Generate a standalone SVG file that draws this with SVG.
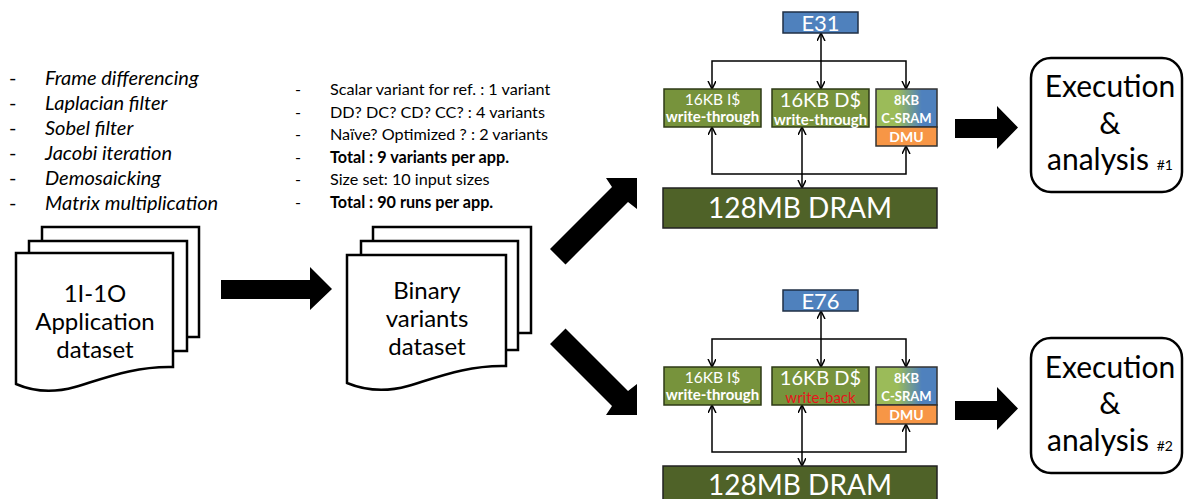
<svg xmlns="http://www.w3.org/2000/svg" width="1184" height="499" viewBox="0 0 1184 499">
<defs>
<style>
.it{font-family:Lato,"Open Sans","Liberation Sans",sans-serif;font-style:italic;font-size:20px;fill:#000}
.ml{font-family:Lato,"Open Sans","Liberation Sans",sans-serif;font-size:16.2px;fill:#000}
.doc{fill:#fff;stroke:#000;stroke-width:2.5}
.docT{font-family:Lato,"Open Sans","Liberation Sans",sans-serif;font-size:24px;fill:#000;text-anchor:middle}
.cache{fill:#77933c;stroke:#2e3a16;stroke-width:1.5}
.cpu{fill:#4f81bd;stroke:#1f2f45;stroke-width:1.5}
.dram{fill:#4f6228;stroke:#222;stroke-width:1.5}
.dmu{fill:#f79646;stroke:#333;stroke-width:1.5}
.wl{font-family:Lato,"Open Sans","Liberation Sans",sans-serif;fill:#fff;text-anchor:middle}
.red{fill:#e8141c}
.conn{fill:none;stroke:#000;stroke-width:1.5}
.blk{fill:#000}
.exe{fill:#fff;stroke:#000;stroke-width:2.5}
.exT{font-family:Lato,"Open Sans","Liberation Sans",sans-serif;font-size:30px;fill:#000;text-anchor:middle}
</style>
<marker id="ah" markerWidth="10" markerHeight="10" refX="8" refY="4" orient="auto-start-reverse" markerUnits="userSpaceOnUse">
<path d="M0,0 L8,4 L0,8" fill="none" stroke="#000" stroke-width="1.5"/>
</marker>
<linearGradient id="gs" x1="0" y1="0" x2="1" y2="0">
<stop offset="0.35" stop-color="#9bbb59"/>
<stop offset="0.75" stop-color="#4f81bd"/>
</linearGradient>
</defs>
<rect width="1184" height="499" fill="#fff"/>

<g id="app-list">
<g class="it">
<text x="9" y="85" font-style="normal">-</text><text x="45" y="85">Frame differencing</text>
<text x="9" y="110" font-style="normal">-</text><text x="45" y="110">Laplacian filter</text>
<text x="9" y="135" font-style="normal">-</text><text x="45" y="135">Sobel filter</text>
<text x="9" y="160" font-style="normal">-</text><text x="45" y="160">Jacobi iteration</text>
<text x="9" y="185" font-style="normal">-</text><text x="45" y="185">Demosaicking</text>
<text x="9" y="210" font-style="normal">-</text><text x="45" y="210">Matrix multiplication</text>
</g>
</g>

<g id="variant-list">
<g class="ml">
<text x="295" y="95">-</text><text x="330" y="95">Scalar variant for ref. : 1 variant</text>
<text x="295" y="117.5">-</text><text x="330" y="117.5">DD? DC? CD? CC? : 4 variants</text>
<text x="295" y="140">-</text><text x="330" y="140">Naïve? Optimized ? : 2 variants</text>
<text x="295" y="162.5">-</text><text x="330" y="162.5" font-weight="bold">Total : 9 variants per app.</text>
<text x="295" y="185">-</text><text x="330" y="185">Size set: 10 input sizes</text>
<text x="295" y="207.5">-</text><text x="330" y="207.5" font-weight="bold">Total : 90 runs per app.</text>
</g>
</g>

<g id="app-dataset">
<rect class="doc" x="42" y="227" width="157" height="110"/>
<rect class="doc" x="29" y="241" width="158" height="110"/>
<path class="doc" d="M16,253 H173 V367 C135,366 105,378 75,387 C50,394 32,391 16,384 Z"/>
<text class="docT" x="95" y="302">1I-1O</text>
<text class="docT" x="95" y="330">Application</text>
<text class="docT" x="95" y="358">dataset</text>
</g>

<g id="binary-dataset">
<rect class="doc" x="373" y="227" width="158" height="106"/>
<rect class="doc" x="361" y="241" width="157" height="109"/>
<path class="doc" d="M347,255 H506 V366 C468,365 438,377 408,386 C383,393 364,390 347,383 Z"/>
<text class="docT" x="427" y="299">Binary</text>
<text class="docT" x="427" y="327">variants</text>
<text class="docT" x="427" y="355">dataset</text>
</g>

<g id="big-arrows">
<polygon class="blk" points="221,280 310,280 310,267 332,289 310,310 310,299 221,299"/>
<polygon class="blk" points="550,249 612,187 606,178 637,178 637,209 628,202 565.5,264.5"/>
<polygon class="blk" points="550,344 612,406 606,415 637,415 637,384 628,391 565.5,328.5"/>
<polygon class="blk" points="955,119 997,119 997,106 1018,127.5 997,149 997,138 955,138"/>
<polygon class="blk" points="955,401 997,401 997,387 1018,408.5 997,430 997,420 955,420"/>
</g>

<g id="connectors">
<path class="conn" d="M712,89 V61 H906 V89" marker-start="url(#ah)" marker-end="url(#ah)"/>
<line class="conn" x1="821" y1="33" x2="821" y2="89" marker-start="url(#ah)" marker-end="url(#ah)"/>
<path class="conn" d="M712,127 V174 H906 V146" marker-start="url(#ah)" marker-end="url(#ah)"/>
<line class="conn" x1="802" y1="127" x2="802" y2="188" marker-start="url(#ah)" marker-end="url(#ah)"/>

<path class="conn" d="M712,367 V339 H906 V367" marker-start="url(#ah)" marker-end="url(#ah)"/>
<line class="conn" x1="821" y1="311" x2="821" y2="367" marker-start="url(#ah)" marker-end="url(#ah)"/>
<path class="conn" d="M712,405 V452 H906 V424" marker-start="url(#ah)" marker-end="url(#ah)"/>
<line class="conn" x1="802" y1="405" x2="802" y2="466" marker-start="url(#ah)" marker-end="url(#ah)"/>
</g>

<g id="e31">
<rect class="cpu" x="783" y="12" width="75" height="21"/>
<text class="wl" x="820.5" y="31" font-size="22">E31</text>
</g>
<g id="icache1">
<rect class="cache" x="664" y="89" width="97" height="38"/>
<text class="wl" x="712.5" y="105" font-size="15.5">16KB I$</text>
<text class="wl" x="712.5" y="122" font-size="15" font-weight="bold">write-through</text>
</g>
<g id="dcache1">
<rect class="cache" x="772" y="89" width="97" height="38"/>
<text class="wl" x="820.5" y="107" font-size="20">16KB D$</text>
<text class="wl" x="820.5" y="125" font-size="15" font-weight="bold">write-through</text>
</g>
<g id="csram1">
<rect x="876" y="89" width="61" height="38" fill="url(#gs)" stroke="#333" stroke-width="1.5"/>
<rect class="dmu" x="876" y="127" width="61" height="19"/>
<text class="wl" x="906.5" y="105" font-size="13" font-weight="bold">8KB</text>
<text class="wl" x="906.5" y="123" font-size="13" font-weight="bold">C-SRAM</text>
<text class="wl" x="906.5" y="142" font-size="14" font-weight="bold">DMU</text>
</g>
<g id="dram1">
<rect class="dram" x="663" y="188" width="274" height="40"/>
<text class="wl" x="800" y="218" font-size="28">128MB DRAM</text>
</g>

<g id="e76">
<rect class="cpu" x="783" y="290" width="75" height="21"/>
<text class="wl" x="820.5" y="309" font-size="22">E76</text>
</g>
<g id="icache2">
<rect class="cache" x="664" y="367" width="97" height="38"/>
<text class="wl" x="712.5" y="383" font-size="15.5">16KB I$</text>
<text class="wl" x="712.5" y="400" font-size="15" font-weight="bold">write-through</text>
</g>
<g id="dcache2">
<rect class="cache" x="772" y="367" width="97" height="38"/>
<text class="wl" x="820.5" y="385" font-size="20">16KB D$</text>
<text class="wl red" x="820.5" y="403" font-size="15">write-back</text>
</g>
<g id="csram2">
<rect x="876" y="367" width="61" height="38" fill="url(#gs)" stroke="#333" stroke-width="1.5"/>
<rect class="dmu" x="876" y="405" width="61" height="19"/>
<text class="wl" x="906.5" y="383" font-size="13" font-weight="bold">8KB</text>
<text class="wl" x="906.5" y="401" font-size="13" font-weight="bold">C-SRAM</text>
<text class="wl" x="906.5" y="420" font-size="14" font-weight="bold">DMU</text>
</g>
<g id="dram2">
<rect class="dram" x="663" y="466" width="274" height="40"/>
<text class="wl" x="800" y="495" font-size="28">128MB DRAM</text>
</g>

<g id="exec1">
<rect class="exe" x="1031" y="58" width="151" height="134" rx="20"/>
<text class="exT" x="1110" y="97">Execution</text>
<text class="exT" x="1110" y="134">&amp;</text>
<text class="exT" x="1110" y="170">analysis <tspan font-size="14">#1</tspan></text>
</g>
<g id="exec2">
<rect class="exe" x="1031" y="338" width="151" height="135" rx="20"/>
<text class="exT" x="1110" y="378">Execution</text>
<text class="exT" x="1110" y="414">&amp;</text>
<text class="exT" x="1110" y="451">analysis <tspan font-size="14">#2</tspan></text>
</g>
</svg>
